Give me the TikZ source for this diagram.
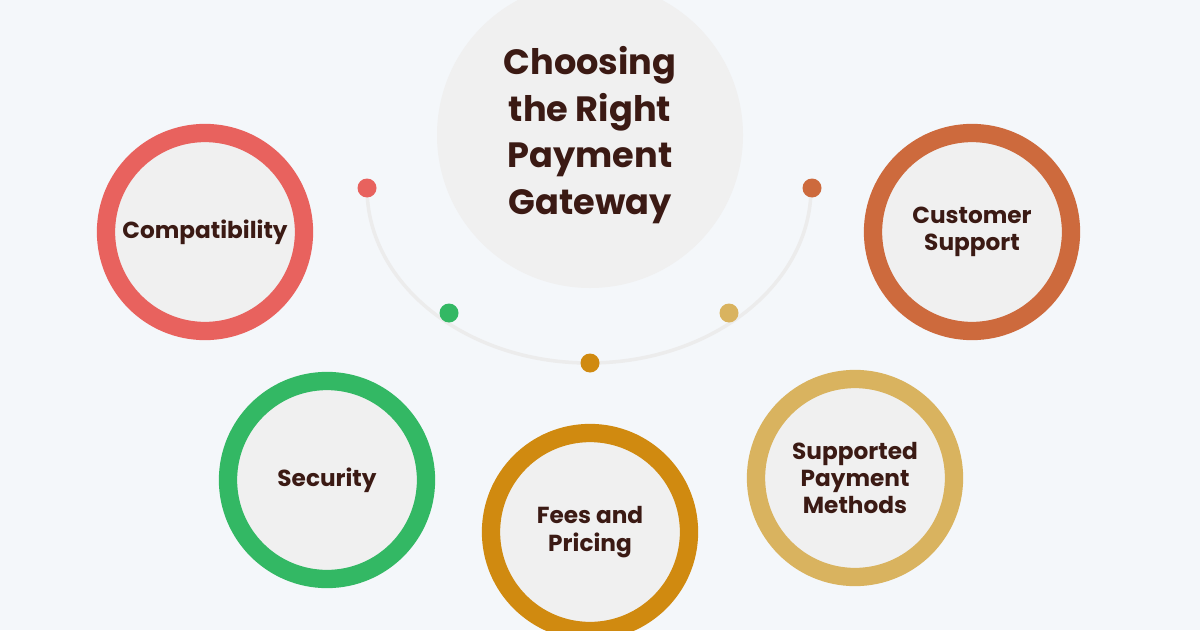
\documentclass[tikz,border=0pt]{standalone}
\usepackage{fontspec}
\setmainfont{Poppins}
\usetikzlibrary{positioning}
\definecolor{bgcol}{HTML}{F4F7FA}
\definecolor{innercol}{HTML}{F0F0F0}
\definecolor{txtcol}{HTML}{3B1A14}
\definecolor{arccol}{HTML}{ECECEC}
\definecolor{redcol}{HTML}{E8625E}
\definecolor{greencol}{HTML}{33B864}
\definecolor{orangecol}{HTML}{D08A10}
\definecolor{sandcol}{HTML}{D9B35F}
\definecolor{brickcol}{HTML}{CD6A3D}
\tikzset{
    topic-ring/.style = {circle, draw=#1, line width=13pt, fill=innercol, minimum size=198*0.025cm, inner sep=0pt, align=center, text=txtcol, font=\bfseries\fontsize{16.5}{19.5}\selectfont},
    arc-dot/.style = {circle, fill=#1, minimum size=19*0.025cm, inner sep=0pt},
}

\begin{document}
\begin{tikzpicture}[x=0.025cm, y=-0.025cm]
\fill[bgcol] (0,0) rectangle (1200,630);
\useasboundingbox (0,0) rectangle (1200,630);
\clip (0,0) rectangle (1200,630);
% central title
\node[circle, fill=innercol, minimum size=306*0.025cm, inner sep=0pt, align=center, text=txtcol, font=\bfseries\fontsize{25}{33}\selectfont] (title) at (590,135) {Choosing\\the Right\\Payment\\Gateway};
% arc with dots
\draw[arccol, line width=2.5pt] (367,188) arc[start angle=180, end angle=360, x radius=222, y radius=-175];
\node[arc-dot=redcol] (d1) at (367,188) {};
\node[arc-dot=greencol] (d2) at (449,313) {};
\node[arc-dot=orangecol] (d3) at (590,363) {};
\node[arc-dot=sandcol] (d4) at (729,313) {};
\node[arc-dot=brickcol] (d5) at (812,188) {};
% topic rings
\node[topic-ring=redcol] (compat) at (205,232) {Compatibility};
\node[topic-ring=brickcol] (support) at (972,232) {Customer\\Support};
\node[topic-ring=greencol] (security) at (327,480) {Security};
\node[topic-ring=orangecol] (fees) at (590,532) {Fees and\\Pricing};
\node[topic-ring=sandcol] (methods) at (855,478) {Supported\\Payment\\Methods};
\end{tikzpicture}
\end{document}
